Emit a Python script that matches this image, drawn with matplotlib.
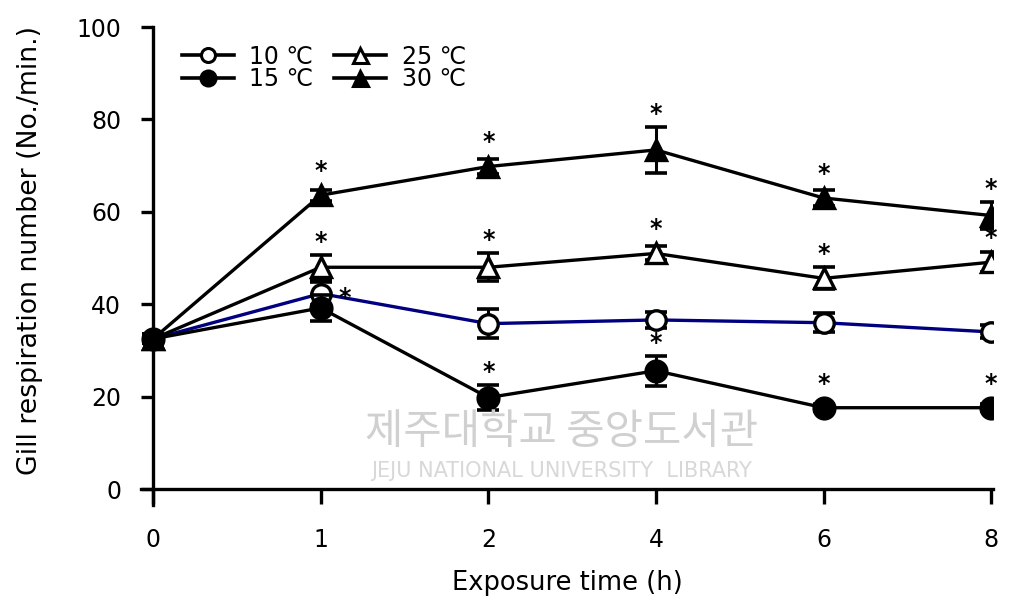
import matplotlib
matplotlib.use("Agg")
import matplotlib.pyplot as plt
from matplotlib.lines import Line2D
import numpy as np

plt.rcParams['font.family'] = ['DejaVu Sans', 'Noto Sans CJK KR']

time_labels = ['0', '1', '2', '4', '6', '8']
series_names = ['10 ℃', '15 ℃', '25 ℃', '30 ℃']
t10 = [32.5, 42.3, 35.8, 36.6, 36.0, 34.0]
t10_err = [1.0, 2.5, 3.2, 1.8, 2.0, 1.4]
t15 = [32.5, 39.2, 19.8, 25.6, 17.6, 17.6]
t15_err = [1.0, 2.8, 2.8, 3.2, 0.8, 0.8]
t25 = [32.5, 48.0, 48.0, 51.0, 45.6, 49.1]
t25_err = [1.0, 2.7, 3.0, 1.5, 2.4, 2.2]
t30 = [32.5, 63.6, 69.8, 73.4, 63.0, 59.2]
t30_err = [1.0, 1.2, 1.7, 4.9, 1.7, 3.0]
sig10 = [0, 0, 0, 0, 0, 0]
sig15 = [0, 1, 1, 1, 1, 1]
sig25 = [0, 1, 1, 1, 1, 1]
sig30 = [0, 1, 1, 1, 1, 1]

fig = plt.figure(figsize=(10.11, 6.02), dpi=100)
ax = fig.add_axes([0.1398, 0.1608, 0.8422, 0.7943])
x = np.arange(len(time_labels))

styles = [
    dict(color='#000080', marker='o', mfc='white', mec='black', ms=14),
    dict(color='black', marker='o', mfc='black', mec='black', ms=15),
    dict(color='black', marker='^', mfc='white', mec='black', ms=15),
    dict(color='black', marker='^', mfc='black', mec='black', ms=15),
]
vals = [t10, t15, t25, t30]
errs = [t10_err, t15_err, t25_err, t30_err]
sigs = [sig10, sig15, sig25, sig30]

handles = []
for i, (v, e, st) in enumerate(zip(vals, errs, styles)):
    ax.errorbar(x, v, yerr=e, fmt='none', ecolor='black', elinewidth=2.2,
                capsize=8, capthick=2.6, zorder=3 + i)
    ax.plot(x, v, color=st['color'], lw=2.4, marker=st['marker'],
            mfc=st['mfc'], mec=st['mec'], mew=2.4, ms=st['ms'], zorder=4 + i)
    handles.append(Line2D([], [], color='black', lw=2.6, marker=st['marker'],
                          mfc=st['mfc'], mec='black', mew=2.2,
                          ms=st['ms'] * 0.72, label=series_names[i]))

# significance asterisks
for i, (v, e, s) in enumerate(zip(vals, errs, sigs)):
    for j in range(len(x)):
        if not s[j]:
            continue
        if i == 1 and j == 1:
            ax.annotate('*', (x[j], v[j]), xytext=(24, 10), textcoords='offset pixels',
                        ha='center', va='center', fontsize=17, fontweight='bold', zorder=20)
        else:
            top = v[j] + max(e[j], 2.4)
            ax.annotate('*', (x[j], top), xytext=(0, 13), textcoords='offset pixels',
                        ha='center', va='center', fontsize=17, fontweight='bold', zorder=20)

ax.set_xlim(-0.07, 5.01)
ax.set_ylim(-3.5, 100)
ax.spines['left'].set_position(('data', 0))
ax.spines['bottom'].set_position(('data', 0))
ax.spines['top'].set_visible(False)
ax.spines['right'].set_visible(False)
for sp in ['left', 'bottom']:
    ax.spines[sp].set_linewidth(2.4)
ax.set_xticks(x)
ax.set_xticklabels(time_labels)
ax.set_yticks([0, 20, 40, 60, 80, 100])
ax.tick_params(axis='x', direction='out', length=11, width=2.4, labelsize=17, pad=17)
ax.tick_params(axis='y', direction='out', length=9, width=2.4, labelsize=17, pad=14)
ax.set_xlabel('Exposure time (h)', fontsize=18.5)
ax.xaxis.set_label_coords(0.5, -0.135)
ax.set_ylabel('Gill respiration number (No./min.)', fontsize=19.3)
ax.yaxis.set_label_coords(-0.116, 0.533)

leg = ax.legend(handles=handles, ncol=2, loc='upper left', bbox_to_anchor=(0.028, 0.998),
                frameon=False, fontsize=17, handlelength=2.2, handletextpad=0.65,
                columnspacing=0.9, labelspacing=-0.05, borderpad=0.2)

# watermark
fig.text(0.555, 0.282, '제주대학교 중앙도서관', fontsize=30, color='#d0d0d0',
         ha='center', va='center', family=['Noto Sans CJK KR'], zorder=0)
fig.text(0.555, 0.218, 'JEJU NATIONAL UNIVERSITY  LIBRARY', fontsize=15, color='#d8d8d8',
         ha='center', va='center', zorder=0)

fig.savefig('out.png', dpi=100)
